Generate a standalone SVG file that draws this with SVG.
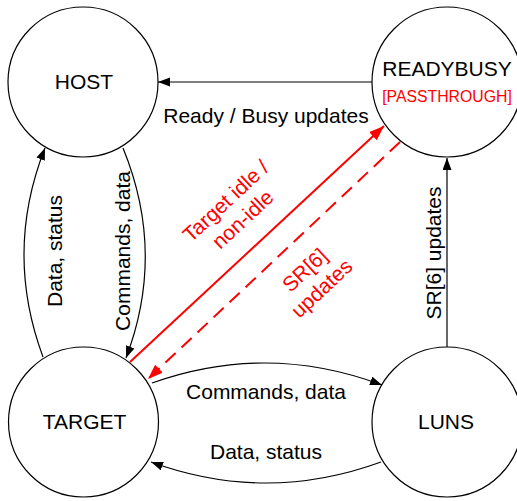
<svg xmlns="http://www.w3.org/2000/svg" width="517" height="501" viewBox="0 0 517 501">
  <style>
    .node { fill: #ffffff; stroke: #000000; stroke-width: 1.2; }
    .label { font-family: "Liberation Sans", Arial, sans-serif; font-size: 21px; fill: #000000; text-anchor: middle; }
    .red { fill: #ff0000; }
    .sub { font-size: 15.8px; }
    .edge { fill: none; stroke: #000000; stroke-width: 1.2; }
    .edge-red { fill: none; stroke: #ff0000; stroke-width: 2; }
    .dashed { stroke-dasharray: 14 8; }
  </style>
  <defs>
    <marker id="arrow" markerUnits="userSpaceOnUse" markerWidth="13" markerHeight="10" refX="12" refY="4.5" orient="auto">
      <path d="M0,0 L12,4.5 L0,9 z" fill="#000000"/>
    </marker>
    <marker id="arrow-red" markerUnits="userSpaceOnUse" markerWidth="16" markerHeight="12" refX="15" refY="5.5" orient="auto">
      <path d="M0,0 L15,5.5 L0,11 z" fill="#ff0000"/>
    </marker>
  </defs>

  <!-- nodes -->
  <g id="host">
    <circle class="node" cx="83" cy="82" r="75"/>
    <text class="label" x="84" y="89">HOST</text>
  </g>
  <g id="readybusy">
    <circle class="node" cx="447" cy="82" r="75"/>
    <text class="label" x="447" y="76">READYBUSY</text>
    <text class="label red sub" x="447" y="102">[PASSTHROUGH]</text>
  </g>
  <g id="target">
    <circle class="node" cx="83.5" cy="422" r="75"/>
    <text class="label" x="84.5" y="429">TARGET</text>
  </g>
  <g id="luns">
    <circle class="node" cx="447" cy="422" r="75"/>
    <text class="label" x="446" y="429">LUNS</text>
  </g>

  <!-- connectors -->
  <g id="connectors">
    <!-- READYBUSY -> HOST -->
    <path class="edge" d="M372,82 L158,82" marker-end="url(#arrow)"/>
    <text class="label" x="266" y="123">Ready / Busy updates</text>

    <!-- TARGET -> HOST -->
    <path class="edge" d="M43,357 Q4,252 45,148" marker-end="url(#arrow)"/>
    <text class="label" transform="translate(62,251) rotate(-90)">Data, status</text>

    <!-- HOST -> TARGET -->
    <path class="edge" d="M123,148 Q166,253 126,358" marker-end="url(#arrow)"/>
    <text class="label" transform="translate(130,251) rotate(-90)">Commands, data</text>

    <!-- TARGET -> READYBUSY (idle state) -->
    <path class="edge-red" d="M130,362 L384,126" marker-end="url(#arrow-red)"/>
    <g transform="translate(234,210) rotate(-43)">
      <text class="label red" x="0" y="-5">Target idle /</text>
      <text class="label red" x="0" y="20">non-idle</text>
    </g>

    <!-- READYBUSY -> TARGET (SR[6]) -->
    <path class="edge-red dashed" d="M400,142 L148,379" marker-end="url(#arrow-red)"/>
    <g transform="translate(313,279) rotate(-43)">
      <text class="label red" x="0" y="-5">SR[6]</text>
      <text class="label red" x="0" y="20">updates</text>
    </g>

    <!-- LUNS -> READYBUSY -->
    <path class="edge" d="M447,347 L447,158" marker-end="url(#arrow)"/>
    <text class="label" transform="translate(441,253) rotate(-90)">SR[6] updates</text>

    <!-- TARGET -> LUNS -->
    <path class="edge" d="M152,383 Q267,342 382,385" marker-end="url(#arrow)"/>
    <text class="label" x="266" y="399">Commands, data</text>

    <!-- LUNS -> TARGET -->
    <path class="edge" d="M381,462 Q266,504 151,462" marker-end="url(#arrow)"/>
    <text class="label" x="266" y="459">Data, status</text>
  </g>
</svg>
